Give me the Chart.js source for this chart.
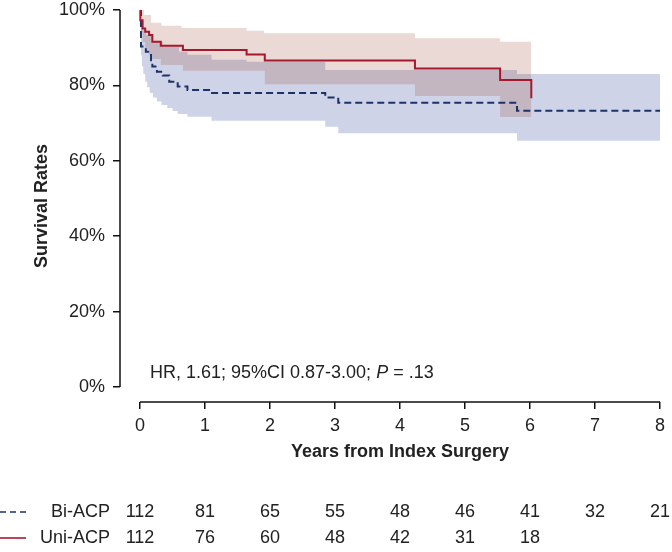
<!DOCTYPE html>
<html>
<head>
<meta charset="utf-8">
<script src="https://cdn.jsdelivr.net/npm/chart.js@4.4.0/dist/chart.umd.min.js"></script>
<style>
  html, body { margin: 0; padding: 0; background: #fff; }
  #wrap { width: 672px; height: 552px; position: relative; }
</style>
</head>
<body>
<div id="wrap"><canvas id="km"></canvas></div>
<script>
// ------- Data -------
const yearTicks = [0, 1, 2, 3, 4, 5, 6, 7, 8];
const pctTicks = [0, 20, 40, 60, 80, 100];

// Uni-ACP survival curve
const uniTimes = [0, 0.005, 0.04, 0.08, 0.14, 0.19, 0.32, 0.66, 1.64, 1.92, 4.23, 5.54, 6.02];
const uniSurv  = [100, 97.3, 95.1, 94.2, 93.4, 91.6, 90.5, 89.4, 88.2, 86.6, 84.5, 81.4, 76.6];

// Bi-ACP survival curve
const biTimes = [0, 0.015, 0.09, 0.17, 0.19, 0.26, 0.35, 0.45, 0.58, 0.73, 1.09, 2.85, 3.05, 5.8, 8.0];
const biSurv  = [100, 90.3, 88.9, 86.7, 85.0, 83.6, 82.6, 81.0, 79.7, 78.8, 78.0, 76.8, 75.4, 73.3, 73.3];

// confidence bands
const uniUpTimes = [0, 0.06, 0.17, 0.33, 0.64, 1.64, 1.91, 4.23, 5.54, 6.02];
const uniUpper   = [100, 98.7, 96.6, 95.8, 95.2, 94.5, 93.8, 92.5, 91.6, 91.6];
const uniLoTimes = [0, 0.01, 0.04, 0.08, 0.14, 0.19, 0.32, 0.66, 1.92, 4.23, 5.54, 6.02];
const uniLower   = [100, 94, 91.5, 89.5, 88, 87, 85.4, 83.9, 80.3, 77.2, 71.6, 71.6];

const biUpTimes = [0, 0.015, 0.04, 0.09, 0.19, 0.35, 0.6, 0.73, 1.1, 1.64, 2.85, 5.8, 8.0];
const biUpper   = [100, 97, 94.7, 93.4, 91.6, 90.3, 88.9, 88.1, 86.8, 86.3, 84.1, 83.0, 83.0];
const biLoTimes = [0, 0.015, 0.03, 0.05, 0.08, 0.11, 0.15, 0.2, 0.26, 0.33, 0.42, 0.5, 0.58, 0.73, 1.1, 2.85, 3.05, 5.8, 8.0];
const biLower   = [100, 88, 85, 83, 81, 79.5, 78, 76.8, 75.7, 74.8, 74, 73.2, 72.4, 71.7, 70.6, 69.0, 67.3, 65.3, 65.3];

// numbers at risk
const biAtRisk  = [112, 81, 65, 55, 48, 46, 41, 32, 21];
const uniAtRisk = [112, 76, 60, 48, 42, 31, 18];

// ------- Helpers -------
const RED = "#a5192f";
const NAVY = "#1d3266";
const FONT = "'Liberation Sans', Arial, Helvetica, sans-serif";

function pts(xs, ys) {
  return xs.map((x, i) => ({ x: x, y: ys[i] }));
}

// KM steps: stay at the old value, then drop at the event time
function band(label, xs, ys, fill, color) {
  return {
    label: label,
    data: pts(xs, ys),
    stepped: "before",
    borderWidth: 0,
    pointRadius: 0,
    fill: fill,
    backgroundColor: color,
  };
}

// axis lines, x title, annotation, risk table
const extras = {
  id: "extras",
  afterDraw(chart) {
    const ctx = chart.ctx;
    const xs = chart.scales.x;
    const ys = chart.scales.y;
    const area = chart.chartArea;
    ctx.save();
    ctx.strokeStyle = "#111";
    ctx.lineWidth = 1.5;
    ctx.beginPath();
    ctx.moveTo(area.left, ys.getPixelForValue(100));
    ctx.lineTo(area.left, ys.getPixelForValue(0));
    ctx.moveTo(xs.getPixelForValue(0), area.bottom);
    ctx.lineTo(xs.getPixelForValue(8), area.bottom);
    ctx.stroke();

    ctx.fillStyle = "#222";
    ctx.textBaseline = "middle";
    ctx.textAlign = "center";
    ctx.font = "bold 18px " + FONT;
    ctx.fillText("Years from Index Surgery", xs.getPixelForValue(4), 452);

    // hazard ratio note
    ctx.textAlign = "left";
    ctx.font = "18px " + FONT;
    let tx = 150;
    const ty = 373;
    const part1 = "HR, 1.61; 95%CI 0.87-3.00; ";
    ctx.fillText(part1, tx, ty);
    tx += ctx.measureText(part1).width;
    ctx.font = "italic 18px " + FONT;
    ctx.fillText("P", tx, ty);
    tx += ctx.measureText("P").width;
    ctx.font = "18px " + FONT;
    ctx.fillText(" = .13", tx, ty);

    // risk table
    const rows = [
      { name: "Bi-ACP", vals: biAtRisk, color: NAVY, dash: [6, 4], y: 512 },
      { name: "Uni-ACP", vals: uniAtRisk, color: RED, dash: [], y: 538 },
    ];
    rows.forEach((r) => {
      ctx.strokeStyle = r.color;
      ctx.lineWidth = 1.6;
      ctx.setLineDash(r.dash);
      ctx.beginPath();
      ctx.moveTo(0, r.y);
      ctx.lineTo(26, r.y);
      ctx.stroke();
      ctx.setLineDash([]);
      ctx.fillStyle = "#222";
      ctx.textAlign = "right";
      ctx.fillText(r.name, 110, r.y);
      ctx.textAlign = "center";
      r.vals.forEach((v, i) => {
        ctx.fillText(String(v), xs.getPixelForValue(yearTicks[i]), r.y);
      });
    });
    ctx.restore();
  },
};

// ------- Chart -------
Chart.defaults.font.family = FONT;
Chart.defaults.font.size = 18;
Chart.defaults.color = "#222";

new Chart(document.getElementById("km"), {
  type: "line",
  data: {
    datasets: [
      {
        label: "Uni-ACP",
        data: pts(uniTimes, uniSurv),
        stepped: "before",
        borderColor: RED,
        borderWidth: 2,
        pointRadius: 0,
        fill: false,
      },
      {
        label: "Bi-ACP",
        data: pts(biTimes, biSurv),
        stepped: "before",
        borderColor: NAVY,
        borderWidth: 2,
        borderDash: [7, 4],
        pointRadius: 0,
        fill: false,
      },
      band("Uni upper", uniUpTimes, uniUpper, "+1", "rgba(144, 55, 29, 0.19)"),
      band("Uni lower", uniLoTimes, uniLower, false, "transparent"),
      band("Bi upper", biUpTimes, biUpper, "+1", "rgba(48, 64, 150, 0.23)"),
      band("Bi lower", biLoTimes, biLower, false, "transparent"),
    ],
  },
  options: {
    responsive: true,
    maintainAspectRatio: false,
    animation: false,
    layout: { padding: { top: 10, right: 12, bottom: 0, left: 0 } },
    plugins: {
      legend: { display: false },
      tooltip: { enabled: false },
    },
    scales: {
      x: {
        type: "linear",
        min: -0.3077,
        max: 8,
        afterBuildTicks: (s) => { s.ticks = yearTicks.map((v) => ({ value: v })); },
        afterFit: (s) => { s.height = 150; s.paddingLeft = 0; s.paddingRight = 0; },
        ticks: { padding: 6, color: "#222", font: { size: 18 } },
        grid: { drawOnChartArea: false, drawTicks: true, tickLength: 7, color: "#111", lineWidth: 1.5 },
        border: { display: false },
      },
      y: {
        type: "linear",
        min: -3.98,
        max: 100,
        afterBuildTicks: (s) => { s.ticks = pctTicks.map((v) => ({ value: v })); },
        afterFit: (s) => { s.width = 120; s.paddingTop = 0; s.paddingBottom = 0; },
        ticks: { padding: 8, color: "#222", font: { size: 18 }, callback: (v) => v + "%" },
        grid: { drawOnChartArea: false, drawTicks: true, tickLength: 7, color: "#111", lineWidth: 1.5 },
        border: { display: false },
        title: {
          display: true,
          text: "Survival Rates",
          font: { size: 18, weight: "bold" },
          color: "#222",
          padding: { top: 31, bottom: 0 },
        },
      },
    },
  },
  plugins: [extras],
});
</script>
</body>
</html>
